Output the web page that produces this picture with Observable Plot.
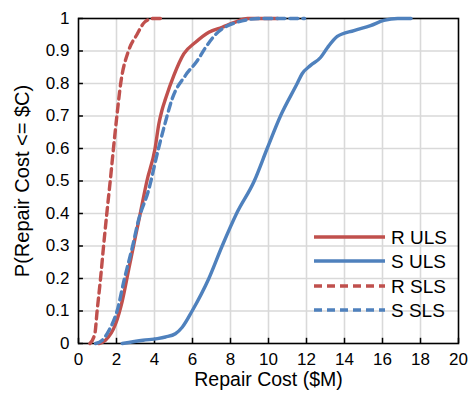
<!DOCTYPE html>
<html><head><meta charset="utf-8">
<script src="https://cdn.jsdelivr.net/npm/d3@7"></script>
<script src="https://cdn.jsdelivr.net/npm/@observablehq/plot@0.6"></script>
<style>
body{margin:0;background:#fff;}
#wrap{position:relative;width:475px;height:395px;}
#legend{position:absolute;left:0;top:0;pointer-events:none;}
</style>
</head><body><div id="wrap"></div>
<script>
const FONT = "'Liberation Sans', Arial, Helvetica, sans-serif";

const xTicks = [0, 2, 4, 6, 8, 10, 12, 14, 16, 18, 20];
const yTicks = [0, 0.1, 0.2, 0.3, 0.4, 0.5, 0.6, 0.7, 0.8, 0.9, 1];

const seriesNames = ["R ULS", "S ULS", "R SLS", "S SLS"];
const seriesColors = ["#C0504D", "#4F81BD", "#C0504D", "#4F81BD"];
const seriesDashed = [false, false, true, true];

const rUlsX = [1.07, 1.42, 1.95, 2.3, 2.65, 3.0, 3.25, 3.6, 4.03, 4.23, 4.39, 4.58, 5.02, 5.54, 6.16, 6.86, 7.56, 8.17, 8.9, 10.5];
const rUlsY = [0, 0.01, 0.06, 0.13, 0.23, 0.33, 0.4, 0.5, 0.6, 0.676, 0.717, 0.753, 0.825, 0.891, 0.927, 0.958, 0.973, 0.987, 1, 1];

const sUlsX = [2.3, 3.4, 4.15, 4.58, 5.1, 5.46, 5.98, 6.86, 7.56, 8.32, 9.25, 9.93, 10.63, 11.51, 11.77, 12.2, 12.74, 13.1, 13.62, 14.5, 15.37, 16.07, 16.8, 17.5];
const sUlsY = [0, 0.01, 0.015, 0.02, 0.03, 0.05, 0.1, 0.2, 0.3, 0.4, 0.5, 0.6, 0.7, 0.8, 0.83, 0.855, 0.88, 0.91, 0.945, 0.963, 0.978, 0.994, 1, 1];

const rSlsX = [0.6, 0.86, 0.98, 1.16, 1.32, 1.49, 1.67, 1.84, 2.02, 2.22, 2.63, 3.07, 3.5, 3.95, 4.45];
const rSlsY = [0, 0.03, 0.1, 0.2, 0.3, 0.4, 0.5, 0.6, 0.7, 0.8, 0.9, 0.95, 0.99, 1, 1];

const sSlsX = [0.9, 1.25, 1.6, 2.03, 2.42, 2.85, 3.16, 3.68, 4.21, 4.55, 4.93, 5.63, 6.25, 6.68, 7.2, 8.17, 9.6, 11.9];
const sSlsY = [0, 0.01, 0.04, 0.1, 0.2, 0.3, 0.38, 0.47, 0.6, 0.676, 0.753, 0.825, 0.87, 0.91, 0.95, 0.985, 1, 1];

const seriesX = [rUlsX, sUlsX, rSlsX, sSlsX];
const seriesY = [rUlsY, sUlsY, rSlsY, sSlsY];

const seriesRows = seriesNames.map((name, i) => seriesX[i].map((x, j) => ({series: name, x, y: seriesY[i][j]})));

const gridColor = "#d9d9d9";

const lineMarks = seriesRows.map((rows, i) => Plot.line(rows, {
  x: "x", y: "y",
  stroke: seriesColors[i],
  strokeWidth: 3.4,
  strokeDasharray: seriesDashed[i] ? "8,5" : null,
  strokeLinejoin: "round",
  curve: "monotone-x"
}));

const chart = Plot.plot({
  width: 475,
  height: 395,
  marginLeft: 78,
  marginRight: 17,
  marginTop: 18,
  marginBottom: 52,
  style: {fontFamily: FONT, fontSize: "17px", color: "#000", background: "#fff"},
  x: {domain: [0, 20]},
  y: {domain: [0, 1]},
  marks: [
    Plot.ruleX(xTicks.slice(1, -1), {stroke: gridColor, strokeWidth: 1.6}),
    Plot.ruleY(yTicks.slice(1, -1), {stroke: gridColor, strokeWidth: 1.6}),
    Plot.ruleX(xTicks, {y1: 0, y2: 0.016, stroke: "#000", strokeWidth: 1.5}),
    Plot.ruleY(yTicks, {x1: 0, x2: 0.26, stroke: "#000", strokeWidth: 1.5}),
    Plot.frame({stroke: "#000", strokeWidth: 1.6}),
    Plot.axisX(xTicks, {tickSize: 0, tickPadding: 9, label: null, fontSize: 17}),
    Plot.axisY(yTicks, {tickSize: 0, tickPadding: 9, label: null, fontSize: 17,
      tickFormat: d => String(+d.toFixed(1))}),
    Plot.text(["Repair Cost ($M)"], {frameAnchor: "bottom", dy: 42, fontSize: 19.5, fill: "#000", textAnchor: "middle"}),
    Plot.text(["P(Repair Cost <= $C)"], {frameAnchor: "left", dx: -56, rotate: -90, fontSize: 20, fill: "#000", textAnchor: "middle"}),
    ...lineMarks
  ]
});

const wrap = document.getElementById("wrap");
wrap.appendChild(chart);

// legend overlay
const legendRowY = [237, 261, 286, 310];
const svg = d3.select(wrap).append("svg")
  .attr("id", "legend").attr("width", 475).attr("height", 395);
seriesNames.forEach((name, i) => {
  const g = svg.append("g");
  g.append("line")
    .attr("x1", 314).attr("x2", 385)
    .attr("y1", legendRowY[i]).attr("y2", legendRowY[i])
    .attr("stroke", seriesColors[i]).attr("stroke-width", 3.4)
    .attr("stroke-dasharray", seriesDashed[i] ? "8,5" : null);
  g.append("text")
    .attr("x", 391).attr("y", legendRowY[i]).attr("dy", "0.36em")
    .attr("font-family", FONT).attr("font-size", 19).attr("fill", "#000")
    .text(name);
});
</script>
</body></html>
